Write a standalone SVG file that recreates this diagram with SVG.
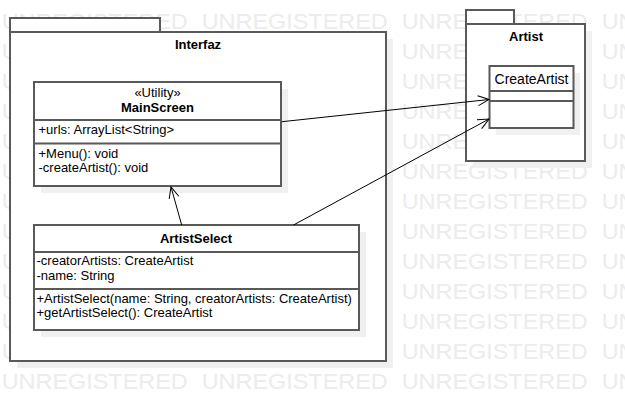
<svg xmlns="http://www.w3.org/2000/svg" width="625" height="402" viewBox="0 0 625 402">
<defs>
<style>
.wm{font-family:"Liberation Sans",Arial,sans-serif;font-size:22px;fill:#ececec}
.box{fill:#fff;stroke:#595959;stroke-width:2}
.sh{fill:#f0f0f0}
.sep{stroke:#595959;stroke-width:2;fill:none}
.t{font-family:"Liberation Sans",Arial,sans-serif;font-size:13px;fill:#000}
.b{font-weight:bold}
.c{text-anchor:middle}
.edge{stroke:#000;stroke-width:1;fill:none}
</style>
<marker id="open" markerUnits="userSpaceOnUse" markerWidth="14" markerHeight="14" viewBox="-12 -7 14 14" refX="0" refY="0" orient="auto">
<path d="M-11,-5 L0,0 L-11,5" fill="none" stroke="#000" stroke-width="1"/>
</marker>
<g id="wmrow">
<text class="wm" x="1.7" y="0" textLength="186" lengthAdjust="spacingAndGlyphs">UNREGISTERED</text>
<text class="wm" x="201.7" y="0" textLength="186" lengthAdjust="spacingAndGlyphs">UNREGISTERED</text>
<text class="wm" x="401.7" y="0" textLength="186" lengthAdjust="spacingAndGlyphs">UNREGISTERED</text>
<text class="wm" x="601.7" y="0" textLength="186" lengthAdjust="spacingAndGlyphs">UNREGISTERED</text>
</g>
</defs>
<rect width="625" height="402" fill="#fff"/>
<g id="watermark">
<use href="#wmrow" y="29.3"/>
<use href="#wmrow" y="59.3"/>
<use href="#wmrow" y="89.3"/>
<use href="#wmrow" y="119.3"/>
<use href="#wmrow" y="149.3"/>
<use href="#wmrow" y="179.3"/>
<use href="#wmrow" y="209.3"/>
<use href="#wmrow" y="239.3"/>
<use href="#wmrow" y="269.3"/>
<use href="#wmrow" y="299.3"/>
<use href="#wmrow" y="329.3"/>
<use href="#wmrow" y="359.3"/>
<use href="#wmrow" y="389.3"/>
</g>
<g id="pkg-interfaz">
<rect class="sh" x="17" y="39" width="376" height="329"/>
<rect class="box" x="10" y="18" width="150" height="14"/>
<rect class="box" x="10" y="32" width="376" height="329"/>
<text class="t b c" x="198" y="49">Interfaz</text>
</g>
<g id="pkg-artist">
<rect class="sh" x="473" y="31" width="119" height="137"/>
<rect class="box" x="466" y="10" width="48" height="14"/>
<rect class="box" x="466" y="24" width="119" height="137"/>
<text class="t b c" x="526" y="41">Artist</text>
</g>
<g id="MainScreen">
<rect class="sh" x="41" y="89" width="247" height="104"/>
<rect class="box" x="34" y="82" width="247" height="104"/>
<line class="sep" x1="34" y1="120" x2="281" y2="120"/>
<line class="sep" x1="34" y1="143.5" x2="281" y2="143.5"/>
<text class="t c" x="157.5" y="96.5">«Utility»</text>
<text class="t b c" x="157.5" y="111.5">MainScreen</text>
<text class="t" x="38.5" y="134">+urls: ArrayList&lt;String&gt;</text>
<text class="t" x="38.5" y="157.5">+Menu(): void</text>
<text class="t" x="38.5" y="172">-createArtist(): void</text>
</g>
<g id="ArtistSelect">
<rect class="sh" x="41" y="232" width="325" height="105"/>
<rect class="box" x="34" y="225" width="325" height="105"/>
<line class="sep" x1="34" y1="252" x2="359" y2="252"/>
<line class="sep" x1="34" y1="289" x2="359" y2="289"/>
<text class="t b c" x="196" y="242.5">ArtistSelect</text>
<text class="t" x="36.5" y="265">-creatorArtists: CreateArtist</text>
<text class="t" x="36.5" y="280">-name: String</text>
<text class="t" x="36.5" y="302.5">+ArtistSelect(name: String, creatorArtists: CreateArtist)</text>
<text class="t" x="36.5" y="317">+getArtistSelect(): CreateArtist</text>
</g>
<g id="CreateArtist">
<rect class="sh" x="496" y="73" width="84" height="62"/>
<rect class="box" x="489.5" y="66" width="84" height="62"/>
<line class="sep" x1="489.5" y1="91" x2="573.5" y2="91"/>
<line class="sep" x1="489.5" y1="101" x2="573.5" y2="101"/>
<text class="t c" x="531.5" y="83.5" style="font-size:14px">CreateArtist</text>
</g>
<g id="connectors">
<line class="edge" x1="282" y1="121.7" x2="489" y2="99.5" marker-end="url(#open)"/>
<line class="edge" x1="293.5" y1="225" x2="489" y2="119" marker-end="url(#open)"/>
<line class="edge" x1="181.7" y1="225" x2="171" y2="187" marker-end="url(#open)"/>
</g>
</svg>
